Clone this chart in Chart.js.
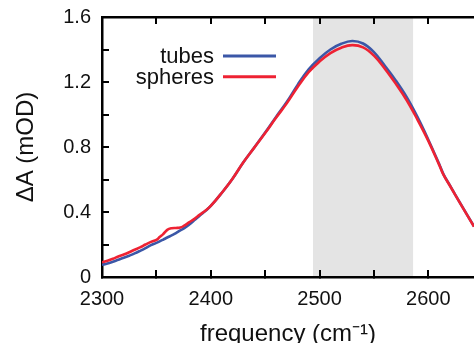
<!DOCTYPE html>
<html>
<head>
<meta charset="utf-8">
<script src="https://cdn.jsdelivr.net/npm/chart.js@4.4.0/dist/chart.umd.min.js"></script>
<style>
  html, body { margin: 0; padding: 0; background: #fff; overflow: hidden; }
  #wrap { width: 474px; height: 352px; }
</style>
</head>
<body>
<div id="wrap"><canvas id="chart"></canvas></div>
<script>
// Frequency axis (cm-1) shared by both spectra
const freq = [2300, 2305, 2310, 2315, 2320, 2325, 2330, 2335, 2340, 2345, 2350, 2353, 2356, 2360,
  2364, 2368, 2372, 2376, 2380, 2385, 2390, 2395, 2400, 2410, 2420, 2430, 2440, 2450, 2460, 2470,
  2480, 2490, 2500, 2510, 2520, 2530, 2540, 2550, 2560, 2570, 2580, 2590, 2600, 2610, 2614, 2620,
  2630, 2642];

// Delta A (mOD)
const tubes = [0.075, 0.083, 0.094, 0.106, 0.118, 0.131, 0.145, 0.161, 0.178, 0.196, 0.210, 0.219,
  0.229, 0.243, 0.256, 0.270, 0.287, 0.302, 0.322, 0.350, 0.379, 0.406, 0.437, 0.517, 0.605, 0.706,
  0.797, 0.889, 0.985, 1.078, 1.184, 1.278, 1.346, 1.400, 1.435, 1.452, 1.437, 1.384, 1.300, 1.210,
  1.108, 0.985, 0.845, 0.695, 0.632, 0.562, 0.447, 0.312];

const spheres = [0.090, 0.100, 0.112, 0.126, 0.138, 0.152, 0.168, 0.182, 0.200, 0.216, 0.228, 0.246,
  0.262, 0.290, 0.300, 0.302, 0.304, 0.318, 0.336, 0.358, 0.384, 0.408, 0.437, 0.517, 0.605, 0.706,
  0.796, 0.886, 0.980, 1.070, 1.171, 1.261, 1.326, 1.378, 1.411, 1.427, 1.413, 1.362, 1.282, 1.190,
  1.089, 0.969, 0.838, 0.690, 0.628, 0.560, 0.445, 0.310];

const xTickMarks = [2300, 2350, 2400, 2450, 2500, 2550, 2600];
const xTickLabels = [2300, 2400, 2500, 2600];
const yTickMarks = [0, 0.2, 0.4, 0.6, 0.8, 1.0, 1.2, 1.4, 1.6];
const yTickLabels = [0, 0.4, 0.8, 1.2, 1.6];

// Shaded region on the frequency axis
const bandStart = 2494;
const bandEnd = 2586;

const legendOrder = ['tubes', 'spheres'];

const FONT = '"Liberation Sans", Arial, Helvetica, sans-serif';

function hasValue(list, v) {
    return list.some(t => Math.abs(t - v) < 1e-6);
}

// no extra room for half labels, the frame is fixed
function noPadding(scale) {
    scale.paddingTop = 0;
    scale.paddingBottom = 0;
    scale.paddingLeft = 0;
    scale.paddingRight = 0;
}

const bandPlugin = {
    id: 'band',
    beforeDraw(chart) {
        const { ctx, chartArea, scales } = chart;
        const x0 = scales.x.getPixelForValue(bandStart);
        const x1 = scales.x.getPixelForValue(bandEnd);
        ctx.save();
        ctx.fillStyle = '#e4e4e4';
        ctx.fillRect(x0, chartArea.top, x1 - x0, chartArea.bottom - chartArea.top);
        ctx.restore();
    }
};

const legendPlugin = {
    id: 'innerLegend',
    afterDatasetsDraw(chart) {
        const ctx = chart.ctx;
        ctx.save();
        ctx.font = '22px ' + FONT;
        ctx.textAlign = 'right';
        ctx.textBaseline = 'alphabetic';
        legendOrder.forEach((label, i) => {
            const ds = chart.data.datasets.find(d => d.label === label);
            const y = 56 + i * 20.7;
            ctx.fillStyle = '#111';
            ctx.fillText(label, 214, y + 7);
            ctx.strokeStyle = ds.borderColor;
            ctx.lineWidth = 3;
            ctx.beginPath();
            ctx.moveTo(223, y);
            ctx.lineTo(276, y);
            ctx.stroke();
        });
        ctx.restore();
    }
};

const axisGrid = {
    drawOnChartArea: false,
    drawTicks: true,
    tickLength: -7,
    color: '#000',
    lineWidth: 2
};
const axisBorder = { display: true, color: '#000', width: 2.5 };

new Chart(document.getElementById('chart'), {
    type: 'line',
    data: {
        datasets: [
            {
                label: 'spheres',
                data: freq.map((f, i) => ({ x: f, y: spheres[i] })),
                borderColor: '#ee2233',
                borderWidth: 2.6,
                pointRadius: 0,
                tension: 0.4,
                fill: false
            },
            {
                label: 'tubes',
                data: freq.map((f, i) => ({ x: f, y: tubes[i] })),
                borderColor: '#3b57a7',
                borderWidth: 2.6,
                pointRadius: 0,
                tension: 0.4,
                fill: false
            }
        ]
    },
    options: {
        responsive: true,
        maintainAspectRatio: false,
        animation: false,
        layout: { padding: 0 },
        plugins: {
            legend: { display: false },
            tooltip: { enabled: false }
        },
        scales: {
            x: {
                type: 'linear',
                position: 'bottom',
                min: 2300,
                max: 2642,
                afterFit(scale) { scale.height = 75; noPadding(scale); },
                afterBuildTicks(scale) { scale.ticks = xTickMarks.map(v => ({ value: v })); },
                grid: axisGrid,
                border: axisBorder,
                ticks: {
                    padding: 17,
                    maxRotation: 0,
                    autoSkip: false,
                    color: '#111',
                    font: { family: FONT, size: 20 },
                    callback: (v) => hasValue(xTickLabels, v) ? String(v) : ''
                },
                title: {
                    display: true,
                    text: 'frequency (cm\u207B\u00B9)',
                    color: '#111',
                    font: { family: FONT, size: 24 },
                    padding: { top: 0, bottom: 3 }
                }
            },
            x2: {
                type: 'linear',
                position: 'top',
                min: 2300,
                max: 2642,
                afterFit(scale) { scale.height = 17; noPadding(scale); },
                afterBuildTicks(scale) { scale.ticks = xTickMarks.map(v => ({ value: v })); },
                grid: axisGrid,
                border: axisBorder,
                ticks: { display: false }
            },
            y: {
                type: 'linear',
                position: 'left',
                min: 0,
                max: 1.6,
                afterFit(scale) { scale.width = 102; noPadding(scale); },
                afterBuildTicks(scale) { scale.ticks = yTickMarks.map(v => ({ value: v })); },
                grid: axisGrid,
                border: axisBorder,
                ticks: {
                    padding: 18,
                    color: '#111',
                    font: { family: FONT, size: 20 },
                    callback: (v) => hasValue(yTickLabels, v) ? (v === 0 ? '0' : v.toFixed(1)) : ''
                },
                title: {
                    display: true,
                    text: '\u0394A (mOD)',
                    color: '#111',
                    font: { family: FONT, size: 24 },
                    padding: { top: 12, bottom: 0 }
                }
            }
        }
    },
    plugins: [bandPlugin, legendPlugin]
});
</script>
</body>
</html>
